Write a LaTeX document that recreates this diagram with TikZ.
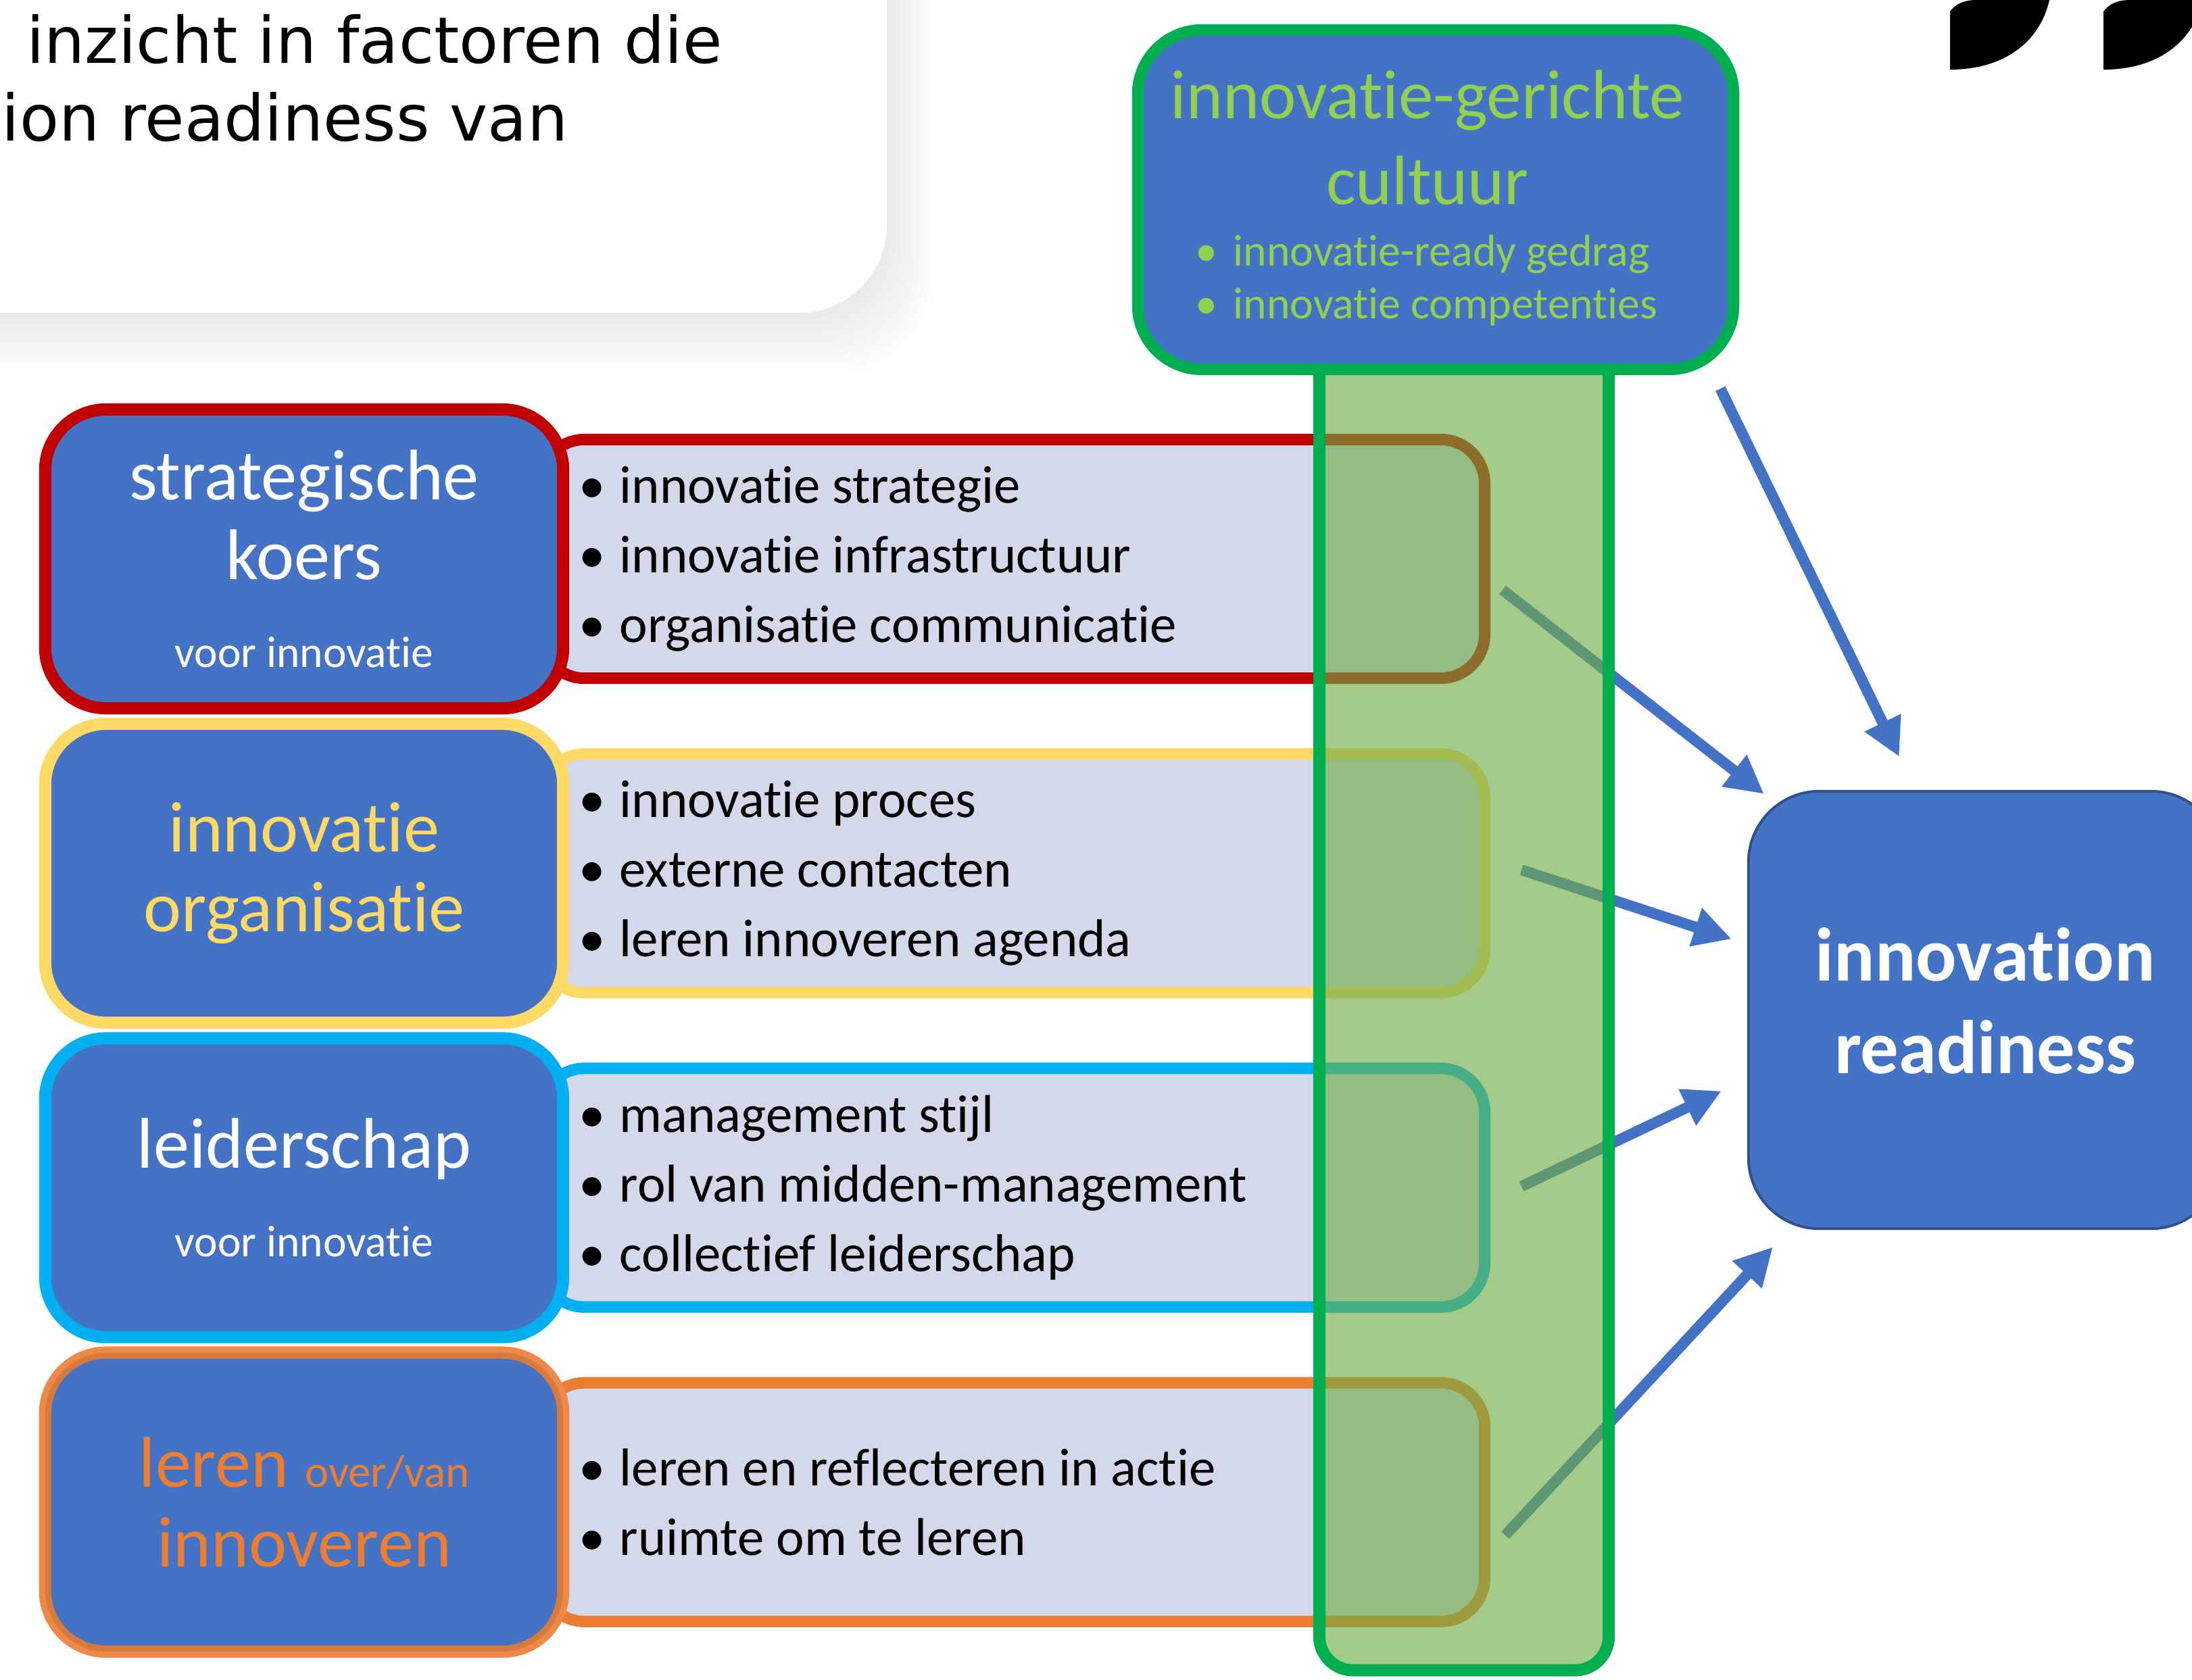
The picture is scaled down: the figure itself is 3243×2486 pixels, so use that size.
\documentclass[tikz,border=0pt]{standalone}
\usepackage{fontspec}
\setmainfont{Carlito}[Ligatures=NoCommon]
\newfontfamily\cardfont{DejaVu Sans}
\usetikzlibrary{positioning,calc,arrows.meta}
\definecolor{kblue}{HTML}{4472C4}
\definecolor{kred}{HTML}{C00000}
\definecolor{kyellow}{HTML}{FFD966}
\definecolor{kcyan}{HTML}{00B0F0}
\definecolor{korange}{HTML}{ED7D31}
\definecolor{korlight}{RGB}{238,137,72}
\definecolor{kordark}{RGB}{216,121,62}
\definecolor{kgreen}{HTML}{00B050}
\definecolor{klime}{HTML}{92D050}
\definecolor{kleaf}{HTML}{70AD47}
\definecolor{klav}{RGB}{211,216,235}
\definecolor{kdark}{HTML}{2F528F}
\newcommand{\bul}{\makebox[0.76em][l]{\textbullet}}
\newcommand{\gbul}{\makebox[0.85em][l]{\textbullet}}
\newcommand{\klein}[1]{{\fontsize{18.6}{20}\selectfont #1}}

\begin{document}
\begin{tikzpicture}[x=0.01cm, y=-0.01cm, node distance={4.65cm},
  box/.style = {draw=#1, line width=0.18cm, fill=kblue, rounded corners=0.9cm, minimum width=7.66cm, minimum height=4.42cm, align=center, text=white, font=\fontsize{30.2}{33.6}\selectfont},
  bar/.style = {draw=#1, line width=0.17cm, fill=klav, rounded corners=0.65cm, minimum width=13.96cm, minimum height=3.53cm, anchor=east},
  lst/.style = {anchor=west, align=left, inner sep=0pt, font=\fontsize{22.4}{29.3}\selectfont},
  arr/.style = {draw=kblue, line width=0.16cm, -{Triangle[length=0.56cm, width=0.56cm]}}]
\useasboundingbox (0,0) rectangle (3243,2486);
\clip (0,0) rectangle (3243,2486);
\fill[white] (0,0) rectangle (3243,2486);

\foreach \s in {1,...,10}
  \fill[black, opacity=0.008, rounded corners=1.3cm] (-300,-300) rectangle (1312+7*\s, 463+9*\s);
\fill[white, rounded corners=1.3cm] (-300,-300) rectangle (1312,463);
\node[anchor=base east, inner sep=0pt, font=\cardfont\fontsize{27}{32}\selectfont] (intro1) at (1069,94) {inzicht in factoren die};
\node[anchor=base east, inner sep=0pt, font=\cardfont\fontsize{27}{32}\selectfont] (intro2) at (841,209) {tion readiness van};

\foreach \q in {0,227}
  \fill (2885+\q,103) -- (2885+\q,17) .. controls (2893+\q,6) and (2905+\q,0) .. (2925+\q,0) -- (3032+\q,0) .. controls (3018+\q,62) and (2965+\q,103) .. (2885+\q,103) -- cycle;

\node[bar=kred] (b1) at (2205,827) {};
\node[bar=kyellow] (b2) [below of=b1] {};
\node[bar=kcyan] (b3) [below of=b2] {};
\node[bar=korange] (b4) [below of=b3] {};

\node[box=kred] (k1) at (450,827) {strategische\\koers\\[0.12cm]\klein{voor innovatie}};
\node[box=kyellow, text=kyellow] (k2) [below of=k1] {innovatie\\organisatie};
\node[box=kcyan] (k3) [below of=k2] {leiderschap\\[0.13cm]\klein{voor innovatie}};
\node[box=kordark, text=korange] (k4) [below of=k3] {leren {\fontsize{19}{20}\selectfont over/van}\\innoveren};
\draw[korlight, line width=0.09cm, rounded corners=0.95cm] ($(k4.north west)+(4.5,4.5)$) rectangle ($(k4.south east)+(-4.5,-4.5)$);

\node[lst] (l1) at ([xshift=0.14cm]k1.east) {\bul innovatie strategie\\\bul innovatie infrastructuur\\\bul organisatie communicatie};
\node[lst] (l2) at ([xshift=0.14cm]k2.east) {\bul innovatie proces\\\bul externe contacten\\\bul leren innoveren agenda};
\node[lst] (l3) at ([xshift=0.14cm]k3.east) {\bul management stijl\\\bul rol van midden-management\\\bul collectief leiderschap};
\node[lst] (l4) at ([xshift=0.14cm]k4.east) {\bul leren en reflecteren in actie\\\bul ruimte om te leren};

\node[draw=kdark, line width=0.04cm, fill=kblue, rounded corners=1.05cm, minimum width=7cm, minimum height=6.47cm, align=center, text=white, text depth=0.28cm, font=\bfseries\fontsize{32}{39}\selectfont] (ready) at (2937,1494.5) {innovation\\readiness};

\draw[arr] ($(b1.east)+(18,46)$) -- ($(ready.north west)+(25,6)$);
\draw[arr] ($(b2.east)+(46,-5)$) -- ($(ready.west)+(-23,-105)$);
\draw[arr] ($(b3.east)+(46,-2)$) -- ($(ready.west)+(-38,120)$);
\draw[arr] ($(b4.east)+(22,49)$) -- ($(ready.south west)+(38,25)$);

\node[draw=kgreen, line width=0.18cm, fill=kleaf, fill opacity=0.63, rounded corners=0.5cm, minimum width=4.28cm, minimum height=20.21cm] (col) at (2166,1460.5) {};

\node[draw=kgreen, line width=0.17cm, fill=kblue, rounded corners=0.95cm, minimum width=8.81cm, minimum height=5.02cm] (cult) at (2124,295.5) {};
\node[align=center, text=klime, font=\fontsize{29.3}{36.1}\selectfont] (cultT) at (2112,204) {innovatie-gerichte\\cultuur};
\node[anchor=west, align=left, inner sep=0pt, text=klime, font=\fontsize{18.7}{22.2}\selectfont] (cultL) at (1768,415) {\gbul innovatie-ready gedrag\\\gbul innovatie competenties};

\draw[arr] ($(cult.south east)+(-28,20)$) -- ($(ready.north west)+(225,-49)$);
\end{tikzpicture}
\end{document}
